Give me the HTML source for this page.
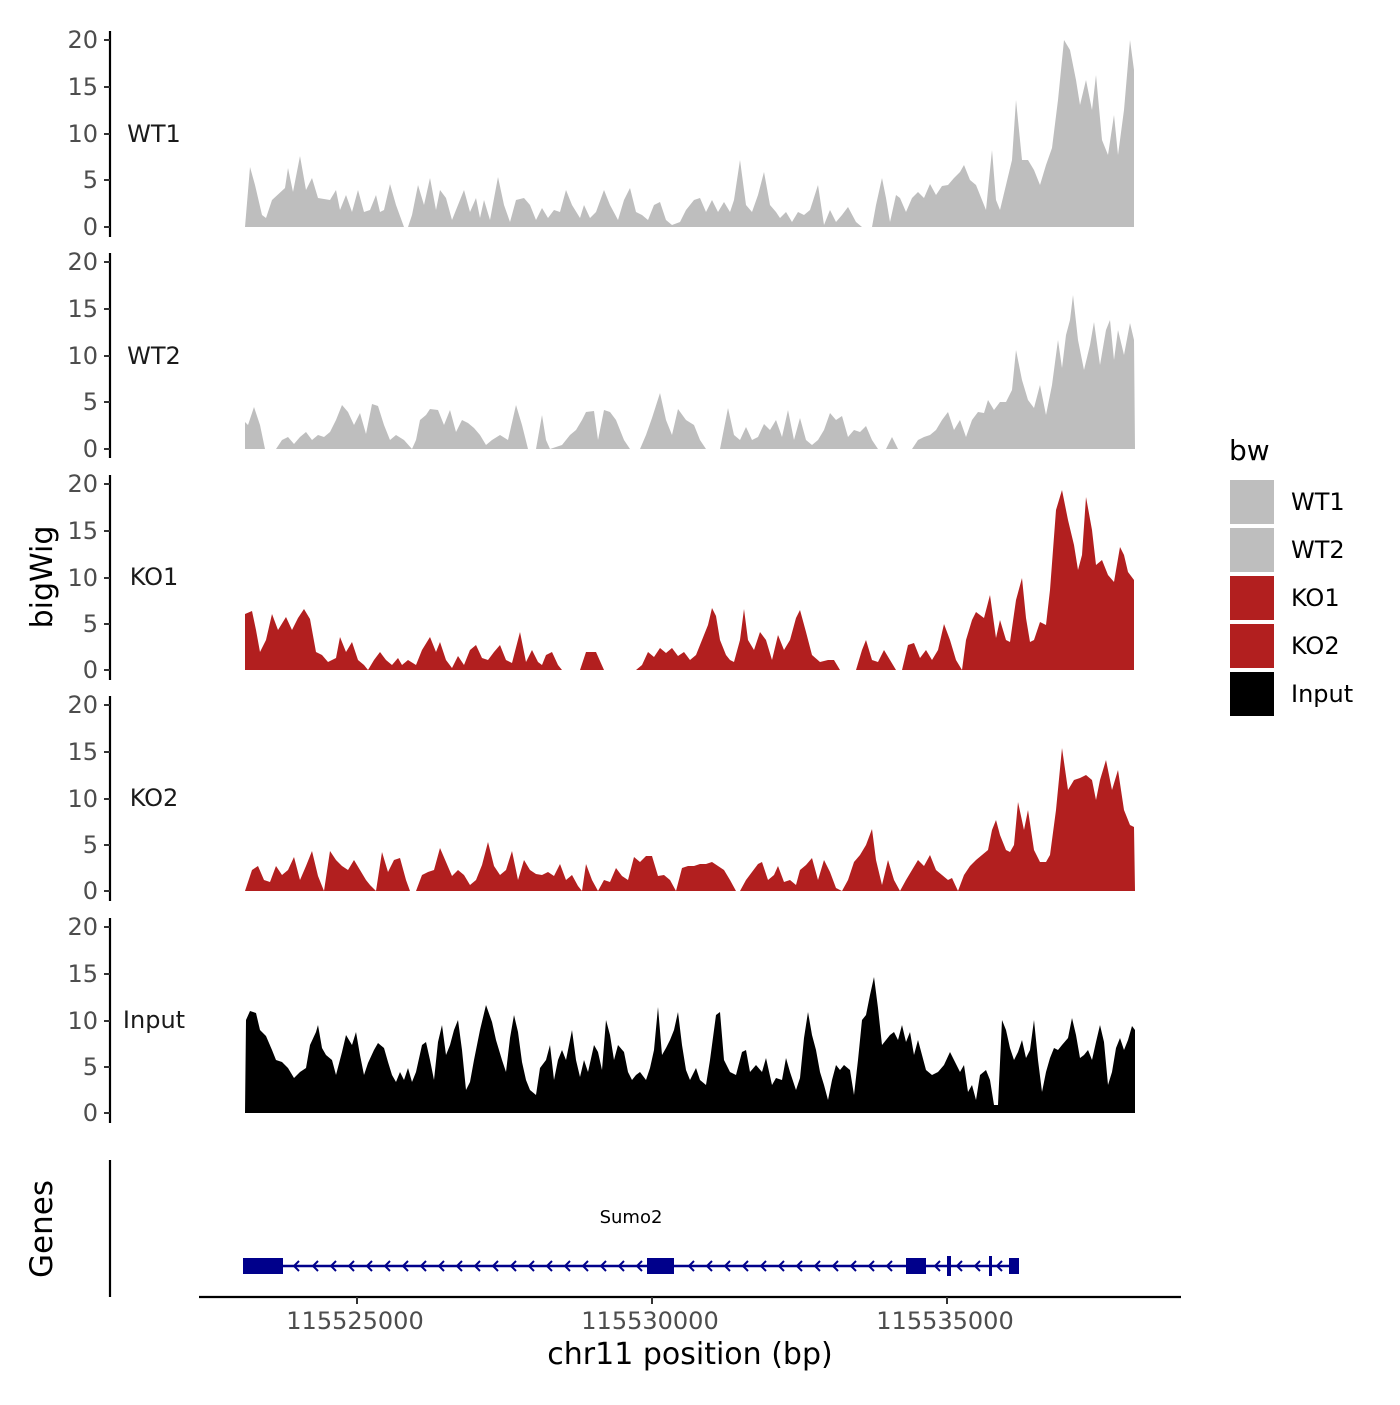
<!DOCTYPE html>
<html><head><meta charset="utf-8"><style>
html,body{margin:0;padding:0;background:#fff}
svg text{font-family:"DejaVu Sans","Liberation Sans",sans-serif}
</style></head><body>
<svg width="1400" height="1400" viewBox="0 0 1400 1400" xmlns="http://www.w3.org/2000/svg">
<rect width="1400" height="1400" fill="#fff"/>
<!-- WT1 -->
<polygon fill="#bebebe" points="245,227 250,167 255,185 262,215 266,218 272,200 285,188 288,168 293,192 300,156 306,190 312,178 318,198 330,200 336,190 340,210 346,195 352,212 358,190 364,212 370,210 376,195 380,212 384,210 390,184 396,205 404,227 408,227 412,215 418,185 424,205 430,178 436,210 440,190 446,198 452,220 458,205 464,190 470,212 476,198 480,218 484,200 490,220 498,177 504,205 510,222 516,200 524,198 530,205 536,220 542,208 548,218 554,210 560,212 566,190 572,205 580,218 584,205 590,218 596,212 604,190 610,205 618,220 624,200 630,188 636,212 642,215 648,220 654,205 660,202 666,220 672,225 680,222 686,210 694,200 700,198 706,212 712,200 718,212 724,202 730,212 734,200 740,160 746,205 752,212 758,195 764,172 770,205 776,212 780,218 786,212 792,222 798,212 804,215 810,210 818,185 824,225 830,210 836,222 842,215 848,207 856,222 862,227 872,227 876,205 882,178 886,198 890,222 896,195 900,198 906,212 912,198 918,192 924,198 930,184 936,195 942,186 948,185 954,178 960,172 964,165 970,180 976,185 980,195 986,210 992,150 996,200 1000,210 1006,185 1012,160 1016,100 1022,160 1028,160 1034,170 1040,185 1046,165 1052,148 1058,100 1064,40 1070,50 1076,80 1080,105 1086,80 1092,110 1096,75 1102,140 1108,155 1114,115 1118,155 1124,110 1130,40 1134,70 1134,227"/>
<!-- WT2 -->
<polygon fill="#bebebe" points="245,449 245,422 248,425 254,407 260,425 265,449 276,449 282,440 288,437 294,444 300,437 306,432 312,440 318,435 324,437 330,432 336,420 342,405 348,412 354,425 360,413 366,434 372,404 378,406 384,425 390,440 396,435 404,440 412,449 416,440 420,420 426,415 430,409 438,410 444,425 450,410 456,432 462,420 468,423 474,428 480,435 486,445 492,440 500,435 508,440 516,405 522,425 528,449 536,449 542,415 546,440 550,449 556,447 562,445 570,435 576,430 582,420 586,412 594,411 598,440 604,410 610,412 616,420 624,440 630,449 640,449 646,435 652,418 660,393 666,420 672,435 678,409 686,420 694,425 700,440 706,449 720,449 728,408 734,435 740,440 746,427 752,440 758,437 764,424 770,430 776,420 782,437 788,410 794,440 800,418 806,440 812,445 818,440 824,430 830,413 836,420 842,416 848,437 854,430 860,432 866,426 872,440 878,449 886,449 892,437 898,449 912,449 918,440 924,437 930,435 936,430 942,420 948,412 954,430 960,420 966,437 972,420 978,412 984,413 988,400 994,410 1000,402 1006,402 1012,390 1016,350 1022,380 1028,400 1034,408 1040,385 1046,415 1052,385 1058,340 1062,368 1066,335 1070,320 1073,295 1078,340 1084,370 1090,345 1094,322 1100,365 1106,330 1110,320 1114,360 1118,330 1124,355 1130,323 1134,340 1135,449"/>
<!-- KO1 -->
<polygon fill="#b21f1f" points="245,670 245,614 252,611 256,630 260,652 266,640 272,614 278,630 286,617 292,630 298,618 304,609 310,619 316,652 322,655 328,662 336,658 340,637 346,652 352,642 358,660 364,665 368,670 374,660 380,652 386,660 392,665 398,658 402,665 408,660 416,665 422,650 430,637 436,652 440,642 446,660 452,668 458,656 464,665 470,650 476,645 482,658 488,660 494,652 500,645 506,660 512,663 520,632 526,662 532,650 538,662 542,665 546,655 552,652 558,665 562,670 580,670 586,652 596,652 604,670 636,670 642,665 648,652 654,657 660,648 666,653 672,648 678,656 684,652 690,660 696,655 702,640 708,625 712,608 716,616 720,640 726,655 730,660 734,662 740,640 744,609 748,640 754,650 760,632 766,640 772,660 778,635 784,650 790,640 796,618 800,610 806,632 812,655 820,662 828,660 834,660 840,670 856,670 862,650 866,640 872,660 878,662 884,650 890,660 896,670 902,670 908,645 914,643 920,658 926,650 932,660 938,650 944,624 950,640 956,660 962,670 966,640 972,620 976,612 984,618 990,595 996,638 1000,620 1006,640 1010,642 1016,600 1022,578 1026,618 1030,642 1034,640 1040,622 1046,625 1050,590 1056,510 1062,490 1068,520 1074,545 1078,570 1082,555 1086,497 1092,530 1096,565 1102,560 1108,575 1114,582 1120,547 1124,555 1128,572 1134,580 1134,670"/>
<!-- KO2 -->
<polygon fill="#b21f1f" points="245,891 252,870 258,866 264,880 270,882 276,866 282,875 288,870 294,857 300,880 306,866 312,851 318,876 324,891 330,851 336,860 342,866 348,870 354,860 360,870 366,880 370,885 376,891 382,852 388,872 394,860 400,858 406,880 410,891 416,891 422,875 428,872 434,870 440,848 446,862 452,876 458,870 464,875 470,885 476,880 482,865 488,842 494,866 500,875 506,870 512,851 518,880 524,860 530,870 536,874 542,875 548,872 554,876 560,864 566,880 572,875 578,886 582,891 586,864 592,880 598,891 604,880 610,882 616,868 622,876 628,880 634,857 640,862 646,856 652,856 658,876 664,875 670,880 676,891 682,868 688,866 694,866 700,864 706,864 712,862 718,866 724,870 730,880 736,891 740,891 746,880 752,872 758,864 762,862 768,880 774,875 778,866 784,882 790,880 796,885 800,870 806,865 812,858 818,880 824,860 830,872 836,888 842,891 848,880 854,862 860,855 866,845 872,829 876,860 882,885 888,860 894,880 900,891 906,880 912,870 918,860 924,866 930,855 936,870 942,875 948,880 952,878 958,891 964,875 970,866 976,860 982,855 988,850 992,830 996,820 1000,835 1006,850 1010,852 1014,845 1018,802 1024,830 1028,810 1034,850 1040,862 1046,862 1050,855 1056,810 1062,748 1068,790 1074,780 1080,778 1086,775 1092,780 1096,800 1100,780 1106,760 1112,790 1118,770 1124,810 1130,825 1134,827 1135,891"/>
<!-- Input -->
<polygon fill="#000" points="245,1113 246,1020 250,1011 256,1013 260,1030 266,1036 272,1050 276,1060 282,1062 288,1068 294,1078 300,1072 306,1068 310,1045 316,1032 318,1025 322,1048 326,1055 332,1060 336,1075 342,1052 346,1035 352,1045 356,1032 360,1055 364,1075 368,1063 374,1050 378,1043 384,1048 388,1062 392,1075 396,1082 400,1072 404,1080 408,1068 412,1082 416,1072 422,1045 426,1042 430,1060 434,1080 438,1042 442,1025 446,1055 450,1045 454,1030 458,1020 462,1050 466,1090 470,1082 474,1060 480,1030 486,1005 492,1022 496,1040 502,1060 506,1072 510,1038 514,1015 518,1032 522,1062 526,1080 530,1090 536,1095 540,1068 546,1060 550,1045 554,1080 558,1060 562,1050 566,1060 572,1030 576,1060 580,1077 584,1060 588,1072 594,1045 598,1052 602,1070 606,1020 610,1035 614,1060 618,1045 624,1052 628,1072 632,1080 636,1075 640,1072 646,1080 650,1068 654,1050 658,1007 662,1055 666,1048 670,1040 674,1030 678,1012 682,1045 686,1070 690,1080 696,1068 700,1080 706,1085 710,1060 716,1015 720,1012 724,1060 730,1072 736,1075 742,1052 746,1050 750,1072 756,1065 762,1072 766,1058 772,1085 776,1078 782,1080 786,1058 790,1072 796,1090 800,1078 804,1038 808,1012 812,1035 816,1050 820,1072 824,1085 828,1100 832,1080 836,1065 840,1070 844,1065 850,1070 854,1095 858,1060 862,1020 866,1015 870,995 874,977 878,1008 882,1045 886,1040 890,1035 894,1032 898,1040 902,1025 906,1042 910,1032 914,1055 918,1040 922,1055 926,1070 932,1075 938,1072 944,1065 950,1052 954,1060 960,1072 964,1065 968,1092 972,1085 976,1100 980,1075 986,1070 990,1080 994,1105 998,1105 1002,1020 1006,1030 1010,1048 1014,1060 1018,1052 1022,1040 1026,1058 1030,1050 1034,1020 1038,1060 1042,1092 1046,1072 1050,1058 1054,1048 1058,1050 1062,1045 1068,1038 1072,1018 1076,1035 1080,1058 1084,1055 1088,1050 1092,1060 1096,1042 1100,1025 1104,1042 1108,1085 1112,1072 1116,1048 1120,1038 1124,1050 1128,1040 1132,1026 1135,1030 1135,1113"/>

<!-- y axes -->
<g stroke="#000" stroke-width="2.2" fill="none">
<line x1="110" y1="31" x2="110" y2="237"/>
<line x1="110" y1="253" x2="110" y2="458"/>
<line x1="110" y1="475" x2="110" y2="680"/>
<line x1="110" y1="696" x2="110" y2="901"/>
<line x1="110" y1="918" x2="110" y2="1123"/>
<line x1="110" y1="1160" x2="110" y2="1297"/>
<line x1="199" y1="1297" x2="1181" y2="1297"/>
</g>
<g stroke="#333" stroke-width="2">
<path d="M104 40H110M104 87H110M104 134H110M104 180H110M104 227H110"/>
<path d="M104 262H110M104 309H110M104 356H110M104 402H110M104 449H110"/>
<path d="M104 484H110M104 531H110M104 578H110M104 624H110M104 670H110"/>
<path d="M104 705H110M104 752H110M104 799H110M104 845H110M104 891H110"/>
<path d="M104 927H110M104 974H110M104 1021H110M104 1067H110M104 1113H110"/>
<path d="M357 1297V1304M652 1297V1304M947 1297V1304"/>
</g>
<g font-size="24" fill="#4d4d4d" text-anchor="end">
<text x="98" y="48">20</text><text x="98" y="95">15</text><text x="98" y="142">10</text><text x="98" y="188">5</text><text x="98" y="235">0</text>
<text x="98" y="270">20</text><text x="98" y="317">15</text><text x="98" y="364">10</text><text x="98" y="410">5</text><text x="98" y="457">0</text>
<text x="98" y="492">20</text><text x="98" y="539">15</text><text x="98" y="586">10</text><text x="98" y="632">5</text><text x="98" y="678">0</text>
<text x="98" y="713">20</text><text x="98" y="760">15</text><text x="98" y="807">10</text><text x="98" y="853">5</text><text x="98" y="899">0</text>
<text x="98" y="935">20</text><text x="98" y="982">15</text><text x="98" y="1029">10</text><text x="98" y="1075">5</text><text x="98" y="1121">0</text>
</g>
<g font-size="24" fill="#4d4d4d" text-anchor="middle">
<text x="355" y="1329">115525000</text><text x="650" y="1329">115530000</text><text x="945" y="1329">115535000</text>
</g>
<g font-size="24" fill="#1a1a1a" text-anchor="middle">
<text x="154" y="142">WT1</text><text x="154" y="364">WT2</text><text x="154" y="585">KO1</text><text x="154" y="806">KO2</text><text x="154" y="1028">Input</text>
</g>
<text x="690" y="1364" font-size="30" text-anchor="middle" fill="#000">chr11 position (bp)</text>
<text transform="translate(52,577) rotate(-90)" font-size="30" text-anchor="middle" fill="#000">bigWig</text>
<text transform="translate(52,1229) rotate(-90)" font-size="31" text-anchor="middle" fill="#000">Genes</text>

<!-- gene -->
<text x="631" y="1223" font-size="18" text-anchor="middle" fill="#000">Sumo2</text>
<g stroke="#00008b" fill="#00008b">
<line x1="245" y1="1266" x2="1018" y2="1266" stroke-width="2.5"/>
<rect x="243" y="1258" width="40" height="16" stroke="none"/>
<rect x="647" y="1258" width="27" height="16" stroke="none"/>
<rect x="906" y="1258" width="20" height="16" stroke="none"/>
<rect x="947" y="1256" width="4" height="20" stroke="none"/>
<rect x="989" y="1256" width="3" height="20" stroke="none"/>
<rect x="1009" y="1258" width="10" height="16" stroke="none"/>
<path fill="none" stroke-width="2" d="M299 1261l-5 5 5 5M318 1261l-5 5 5 5M336 1261l-5 5 5 5M354 1261l-5 5 5 5M372 1261l-5 5 5 5M390 1261l-5 5 5 5M408 1261l-5 5 5 5M426 1261l-5 5 5 5M444 1261l-5 5 5 5M462 1261l-5 5 5 5M480 1261l-5 5 5 5M498 1261l-5 5 5 5M516 1261l-5 5 5 5M534 1261l-5 5 5 5M552 1261l-5 5 5 5M570 1261l-5 5 5 5M588 1261l-5 5 5 5M606 1261l-5 5 5 5M624 1261l-5 5 5 5M642 1261l-5 5 5 5M694 1261l-5 5 5 5M712 1261l-5 5 5 5M730 1261l-5 5 5 5M748 1261l-5 5 5 5M766 1261l-5 5 5 5M784 1261l-5 5 5 5M802 1261l-5 5 5 5M820 1261l-5 5 5 5M838 1261l-5 5 5 5M856 1261l-5 5 5 5M874 1261l-5 5 5 5M892 1261l-5 5 5 5M940 1261l-5 5 5 5M962 1261l-5 5 5 5M980 1261l-5 5 5 5M1002 1261l-5 5 5 5"/>
</g>

<!-- legend -->
<text x="1229" y="460" font-size="28" fill="#000">bw</text>
<rect x="1230" y="480" width="44" height="44" fill="#bebebe"/>
<rect x="1230" y="528" width="44" height="44" fill="#bebebe"/>
<rect x="1230" y="576" width="44" height="44" fill="#b21f1f"/>
<rect x="1230" y="624" width="44" height="44" fill="#b21f1f"/>
<rect x="1230" y="672" width="44" height="44" fill="#000"/>
<g font-size="24" fill="#000">
<text x="1291" y="510">WT1</text><text x="1291" y="558">WT2</text><text x="1291" y="606">KO1</text><text x="1291" y="654">KO2</text><text x="1291" y="702">Input</text>
</g>
</svg>
</body></html>
